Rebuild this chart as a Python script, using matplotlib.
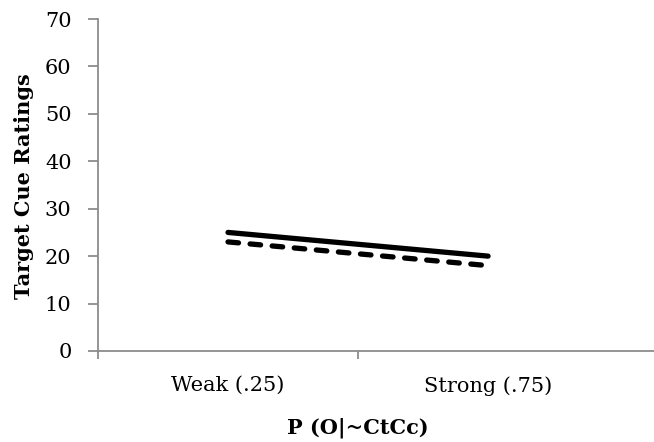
import matplotlib
matplotlib.use("Agg")
import matplotlib.pyplot as plt

categories = ["Weak (.25)", "Strong (.75)"]
solid_vals = [25, 20]
dashed_vals = [23, 18]
yticks = [0, 10, 20, 30, 40, 50, 60, 70]

plt.rcParams["font.family"] = "DejaVu Serif"
AX = "#8C8C8C"

fig = plt.figure(figsize=(6.54, 4.42), dpi=100)
ax = fig.add_axes([0.1498, 0.2059, 0.8502, 0.7511])
x = list(range(len(categories)))

ax.plot(x, solid_vals, color="black", lw=3.8, solid_capstyle="round")
ax.plot(x, dashed_vals, color="black", lw=3.8, dash_capstyle="round",
        dashes=(2.0, 2.2))

ax.set_xlim(-0.5, 1.638)
ax.set_ylim(0, 70)
ax.set_yticks(yticks)
ax.set_yticklabels([str(v) for v in yticks], fontsize=15)
ax.set_xticks([-0.5, 0.5])
ax.set_xticklabels([])
ax.set_xticks(x, minor=True)
ax.set_xticklabels(categories, minor=True, fontsize=15)
ax.tick_params(axis="x", which="minor", length=0, pad=18)
ax.tick_params(axis="x", which="major", length=6, color=AX, width=1.3)
ax.tick_params(axis="y", length=7, color=AX, width=1.3, pad=12)

for s in ["top", "right"]:
    ax.spines[s].set_visible(False)
for s in ["left", "bottom"]:
    ax.spines[s].set_color(AX)
    ax.spines[s].set_linewidth(1.3)

ax.set_ylabel("Target Cue Ratings", fontsize=15, fontweight="bold")
ax.yaxis.label.set_va("center")
ax.yaxis.set_label_coords(-(98 - 24) / 556, (351 - 186) / 332)
ax.set_xlabel("P (O|~CtCc)", fontsize=15, fontweight="bold")
ax.xaxis.label.set_va("center")
ax.xaxis.set_label_coords((358 - 98) / 556, -(428 - 351) / 332)

fig.savefig("out.png", dpi=100, facecolor="white")
